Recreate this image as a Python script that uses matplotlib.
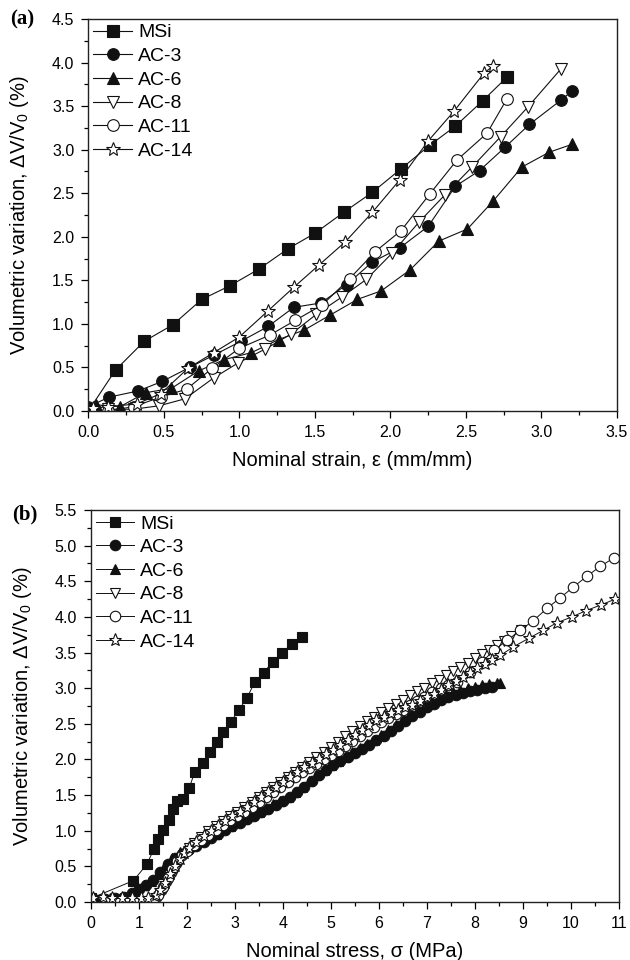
import matplotlib
matplotlib.use("Agg")
import matplotlib.pyplot as plt
from matplotlib.ticker import MultipleLocator

plt.rcParams['font.family'] = ['Liberation Sans', 'DejaVu Sans']
plt.rcParams['mathtext.fontset'] = 'custom'
plt.rcParams['mathtext.rm'] = 'Liberation Sans'
plt.rcParams['mathtext.it'] = 'Liberation Sans:italic'

SERIES = ["MSi", "AC-3", "AC-6", "AC-8", "AC-11", "AC-14"]

# ---------------- Panel (a): volumetric variation vs nominal strain ----------------
A_MSI = [(0.0, 0.0), (0.18, 0.47), (0.37, 0.80), (0.56, 0.99), (0.75, 1.28), (0.94, 1.44),
         (1.13, 1.63), (1.32, 1.86), (1.50, 2.04), (1.69, 2.28), (1.88, 2.51), (2.07, 2.78),
         (2.26, 3.05), (2.43, 3.27), (2.61, 3.56), (2.77, 3.83)]
A_AC3 = [(0.0, 0.05), (0.14, 0.16), (0.33, 0.23), (0.49, 0.34), (0.67, 0.50), (0.83, 0.64),
         (1.01, 0.80), (1.19, 0.97), (1.36, 1.19), (1.54, 1.24), (1.71, 1.45), (1.88, 1.71),
         (2.06, 1.87), (2.25, 2.12), (2.43, 2.58), (2.59, 2.76), (2.76, 3.03), (2.92, 3.29),
         (3.13, 3.57), (3.20, 3.67)]
A_AC6 = [(0.05, 0.07), (0.21, 0.05), (0.38, 0.21), (0.55, 0.26), (0.73, 0.46), (0.90, 0.59),
         (1.08, 0.67), (1.26, 0.82), (1.43, 0.93), (1.60, 1.10), (1.78, 1.28), (1.94, 1.38),
         (2.13, 1.62), (2.32, 1.95), (2.51, 2.09), (2.68, 2.41), (2.87, 2.80), (3.05, 2.97),
         (3.20, 3.06)]
A_AC8 = [(0.13, 0.02), (0.30, 0.02), (0.47, 0.06), (0.64, 0.14), (0.83, 0.38), (0.99, 0.55),
         (1.17, 0.71), (1.34, 0.88), (1.51, 1.11), (1.68, 1.31), (1.84, 1.51), (2.01, 1.81),
         (2.19, 2.17), (2.36, 2.48), (2.54, 2.80), (2.73, 3.15), (2.91, 3.49), (3.13, 3.93)]
A_AC11 = [(0.13, 0.0), (0.30, 0.05), (0.48, 0.16), (0.65, 0.25), (0.82, 0.49), (1.00, 0.72),
          (1.20, 0.87), (1.37, 1.04), (1.55, 1.22), (1.73, 1.52), (1.90, 1.83), (2.07, 2.07),
          (2.26, 2.49), (2.44, 2.88), (2.64, 3.19), (2.77, 3.58)]
A_AC14 = [(0.03, 0.03), (0.13, 0.05), (0.32, 0.08), (0.48, 0.20), (0.66, 0.49), (0.83, 0.67),
          (1.00, 0.85), (1.19, 1.15), (1.36, 1.42), (1.53, 1.68), (1.70, 1.94), (1.88, 2.28),
          (2.06, 2.65), (2.25, 3.10), (2.42, 3.44), (2.62, 3.88), (2.68, 3.96)]

# ---------------- Panel (b): volumetric variation vs nominal stress ----------------
B_MSI = [(0.0, 0.05), (0.89, 0.30), (1.17, 0.53), (1.32, 0.75), (1.41, 0.89), (1.51, 1.01),
         (1.62, 1.15), (1.71, 1.31), (1.79, 1.42), (1.92, 1.45), (2.05, 1.60), (2.17, 1.83),
         (2.33, 1.95), (2.49, 2.11), (2.62, 2.25), (2.76, 2.39), (2.92, 2.53), (3.08, 2.69),
         (3.25, 2.86), (3.42, 3.09), (3.60, 3.22), (3.79, 3.37), (3.98, 3.50), (4.19, 3.62),
         (4.40, 3.72)]
B_AC3 = [(0.1, 0.03), (0.3, 0.04), (0.5, 0.05), (0.7, 0.07), (0.85, 0.12), (1.0, 0.18),
         (1.15, 0.24), (1.3, 0.31), (1.45, 0.42), (1.6, 0.54), (1.75, 0.62), (1.9, 0.68),
         (2.05, 0.74), (2.2, 0.79), (2.35, 0.84), (2.5, 0.90), (2.65, 0.96), (2.8, 1.01),
         (2.95, 1.06), (3.1, 1.11), (3.25, 1.16), (3.4, 1.21), (3.55, 1.26), (3.7, 1.31),
         (3.85, 1.36), (4.0, 1.42), (4.15, 1.48), (4.3, 1.55), (4.45, 1.62), (4.6, 1.70),
         (4.75, 1.78), (4.9, 1.85), (5.05, 1.92), (5.2, 1.98), (5.35, 2.04), (5.5, 2.09),
         (5.65, 2.15), (5.8, 2.21), (5.95, 2.27), (6.1, 2.33), (6.25, 2.40), (6.4, 2.47),
         (6.55, 2.54), (6.7, 2.61), (6.85, 2.67), (7.0, 2.73), (7.15, 2.78), (7.3, 2.83),
         (7.45, 2.87), (7.6, 2.90), (7.75, 2.93), (7.9, 2.96), (8.05, 2.98), (8.2, 3.00),
         (8.35, 3.02)]
B_AC6 = [(0.2, 0.04), (0.4, 0.05), (0.6, 0.06), (0.8, 0.10), (0.95, 0.17), (1.1, 0.24),
         (1.25, 0.30), (1.4, 0.40), (1.55, 0.52), (1.7, 0.62), (1.85, 0.70), (2.0, 0.75),
         (2.15, 0.80), (2.3, 0.85), (2.45, 0.91), (2.6, 0.96), (2.75, 1.02), (2.9, 1.07),
         (3.05, 1.12), (3.2, 1.17), (3.35, 1.22), (3.5, 1.27), (3.65, 1.32), (3.8, 1.37),
         (3.95, 1.42), (4.1, 1.48), (4.25, 1.55), (4.4, 1.62), (4.55, 1.70), (4.7, 1.78),
         (4.85, 1.85), (5.0, 1.92), (5.15, 1.98), (5.3, 2.04), (5.45, 2.10), (5.6, 2.16),
         (5.75, 2.22), (5.9, 2.28), (6.05, 2.34), (6.2, 2.41), (6.35, 2.48), (6.5, 2.55),
         (6.65, 2.62), (6.8, 2.68), (6.95, 2.74), (7.1, 2.80), (7.25, 2.86), (7.4, 2.91),
         (7.55, 2.95), (7.7, 2.98), (7.85, 3.00), (8.0, 3.02), (8.15, 3.04), (8.3, 3.06),
         (8.45, 3.07), (8.53, 3.08)]
B_AC8 = [(0.25, 0.0), (0.5, 0.0), (0.75, 0.0), (1.0, 0.0), (1.2, 0.0), (1.35, 0.02),
         (1.45, 0.08), (1.55, 0.18), (1.65, 0.31), (1.75, 0.44), (1.85, 0.56), (1.95, 0.67),
         (2.05, 0.76), (2.15, 0.83), (2.3, 0.91), (2.45, 0.99), (2.6, 1.06), (2.75, 1.13),
         (2.9, 1.20), (3.05, 1.27), (3.2, 1.34), (3.35, 1.41), (3.5, 1.48), (3.65, 1.55),
         (3.8, 1.62), (3.95, 1.69), (4.1, 1.76), (4.25, 1.83), (4.4, 1.90), (4.55, 1.96),
         (4.7, 2.03), (4.85, 2.10), (5.0, 2.17), (5.15, 2.25), (5.3, 2.33), (5.45, 2.40),
         (5.6, 2.47), (5.75, 2.54), (5.9, 2.60), (6.05, 2.66), (6.2, 2.72), (6.35, 2.78),
         (6.5, 2.84), (6.65, 2.90), (6.8, 2.96), (6.95, 3.01), (7.1, 3.07), (7.25, 3.12),
         (7.4, 3.18), (7.55, 3.24), (7.7, 3.30), (7.85, 3.36), (8.0, 3.42), (8.15, 3.48),
         (8.3, 3.54), (8.45, 3.60), (8.6, 3.66), (8.75, 3.73), (8.95, 3.82)]
B_AC11 = [(0.3, 0.0), (0.6, 0.0), (0.9, 0.0), (1.15, 0.0), (1.3, 0.03), (1.4, 0.10),
          (1.5, 0.21), (1.6, 0.34), (1.7, 0.47), (1.8, 0.58), (1.9, 0.66), (2.0, 0.72),
          (2.15, 0.80), (2.3, 0.87), (2.45, 0.94), (2.6, 1.01), (2.75, 1.08), (2.9, 1.15),
          (3.05, 1.21), (3.2, 1.27), (3.35, 1.33), (3.5, 1.40), (3.65, 1.47), (3.8, 1.54),
          (3.95, 1.61), (4.1, 1.68), (4.25, 1.75), (4.4, 1.82), (4.55, 1.88), (4.7, 1.94),
          (4.85, 2.00), (5.0, 2.06), (5.15, 2.12), (5.3, 2.19), (5.45, 2.26), (5.6, 2.33),
          (5.75, 2.40), (5.9, 2.46), (6.05, 2.52), (6.2, 2.58), (6.35, 2.64), (6.5, 2.70),
          (6.65, 2.76), (6.8, 2.82), (6.95, 2.88), (7.1, 2.95), (7.3, 3.01), (7.45, 3.05),
          (7.62, 3.09), (7.9, 3.23), (8.15, 3.37), (8.39, 3.53), (8.67, 3.67), (8.94, 3.81),
          (9.22, 3.95), (9.5, 4.12), (9.78, 4.27), (10.05, 4.42), (10.33, 4.57),
          (10.61, 4.71), (10.9, 4.83)]
B_AC14 = [(0.05, 0.05), (0.25, 0.07), (0.45, 0.05), (0.65, 0.05), (0.85, 0.05), (1.05, 0.05),
          (1.2, 0.06), (1.35, 0.10), (1.45, 0.17), (1.55, 0.27), (1.65, 0.39), (1.75, 0.51),
          (1.85, 0.61), (1.95, 0.69), (2.05, 0.76), (2.2, 0.84), (2.35, 0.92), (2.5, 0.99),
          (2.65, 1.06), (2.8, 1.13), (2.95, 1.20), (3.1, 1.27), (3.25, 1.34), (3.4, 1.41),
          (3.55, 1.48), (3.7, 1.55), (3.85, 1.62), (4.0, 1.69), (4.15, 1.76), (4.3, 1.83),
          (4.45, 1.89), (4.6, 1.95), (4.75, 2.01), (4.9, 2.07), (5.05, 2.14), (5.2, 2.21),
          (5.35, 2.28), (5.5, 2.35), (5.65, 2.42), (5.8, 2.49), (5.95, 2.55), (6.1, 2.60),
          (6.25, 2.65), (6.4, 2.69), (6.55, 2.73), (6.7, 2.77), (6.85, 2.82), (7.0, 2.87),
          (7.15, 2.92), (7.3, 2.98), (7.45, 3.04), (7.6, 3.10), (7.75, 3.16), (7.9, 3.22),
          (8.05, 3.28), (8.2, 3.34), (8.35, 3.40), (8.53, 3.46), (8.8, 3.58), (9.12, 3.70),
          (9.42, 3.81), (9.71, 3.92), (10.02, 4.00), (10.32, 4.09), (10.63, 4.17),
          (10.92, 4.25)]

A_XTICKS = [0.0, 0.5, 1.0, 1.5, 2.0, 2.5, 3.0, 3.5]
A_YTICKS = [0.0, 0.5, 1.0, 1.5, 2.0, 2.5, 3.0, 3.5, 4.0, 4.5]
B_XTICKS = [0, 1, 2, 3, 4, 5, 6, 7, 8, 9, 10, 11]
B_YTICKS = [0.0, 0.5, 1.0, 1.5, 2.0, 2.5, 3.0, 3.5, 4.0, 4.5, 5.0, 5.5]

STYLES = {
    "MSi":   dict(marker='s', mfc='#111111', mec='#111111', scale=1.0),
    "AC-3":  dict(marker='o', mfc='#111111', mec='#111111', scale=1.05),
    "AC-6":  dict(marker='^', mfc='#111111', mec='#111111', scale=1.05),
    "AC-8":  dict(marker='v', mfc='white', mec='#111111', scale=1.05),
    "AC-11": dict(marker='o', mfc='white', mec='#111111', scale=1.05),
    "AC-14": dict(marker='*', mfc='white', mec='#111111', scale=1.35),
}

fig = plt.figure(figsize=(6.3, 9.6), dpi=100)
ax_a = fig.add_axes([0.1402, 0.5719, 0.8392, 0.4083])
ax_b = fig.add_axes([0.1440, 0.0604, 0.8385, 0.4083])


def draw(ax, datasets, ms, lw):
    for name, data in zip(SERIES, datasets):
        st = STYLES[name]
        xs = [p[0] for p in data]
        ys = [p[1] for p in data]
        ax.plot(xs, ys, color='#111111', lw=lw, marker=st['marker'],
                markersize=ms * st['scale'], markerfacecolor=st['mfc'],
                markeredgecolor=st['mec'], markeredgewidth=0.8, label=name)


def style_axes(ax, xticks, yticks, xminor, yminor, xlabel, xfmt):
    ax.set_xlim(xticks[0], xticks[-1])
    ax.set_ylim(yticks[0], yticks[-1])
    ax.set_xticks(xticks)
    ax.set_yticks(yticks)
    ax.set_xticklabels([xfmt.format(v) for v in xticks])
    ax.set_yticklabels(['{:.1f}'.format(v) for v in yticks])
    ax.xaxis.set_minor_locator(MultipleLocator(xminor))
    ax.yaxis.set_minor_locator(MultipleLocator(yminor))
    ax.tick_params(which='major', direction='out', length=5, width=0.9,
                   labelsize=11.5, pad=5, top=False, right=False)
    ax.tick_params(which='minor', direction='out', length=3, width=0.9,
                   top=False, right=False)
    for sp in ax.spines.values():
        sp.set_linewidth(1.0)
        sp.set_color('#222222')
    ax.set_xlabel(xlabel, fontsize=14.5, labelpad=8)
    ax.set_ylabel(r'Volumetric variation, ΔV/V$_0$ (%)', fontsize=14.5)
    ax.yaxis.set_label_coords(-0.108, 0.5)
    leg = ax.legend(loc='upper left', frameon=False, fontsize=14,
                    handlelength=2.0, handletextpad=0.3, labelspacing=0.31,
                    borderaxespad=0.0, borderpad=0.25)
    return leg


draw(ax_a, [A_MSI, A_AC3, A_AC6, A_AC8, A_AC11, A_AC14], ms=8.0, lw=0.8)
style_axes(ax_a, A_XTICKS, A_YTICKS, 0.25, 0.25,
           'Nominal strain, ε (mm/mm)', '{:.1f}')

draw(ax_b, [B_MSI, B_AC3, B_AC6, B_AC8, B_AC11, B_AC14], ms=7.2, lw=0.7)
style_axes(ax_b, B_XTICKS, B_YTICKS, 0.5, 0.25,
           'Nominal stress, σ (MPa)', '{:d}')

fig.text(0.016, 0.980, '(a)', fontsize=15, fontweight='bold',
         family='Liberation Serif', ha='left', va='center')
fig.text(0.020, 0.464, '(b)', fontsize=15, fontweight='bold',
         family='Liberation Serif', ha='left', va='center')

fig.savefig('out.png', dpi=100)
